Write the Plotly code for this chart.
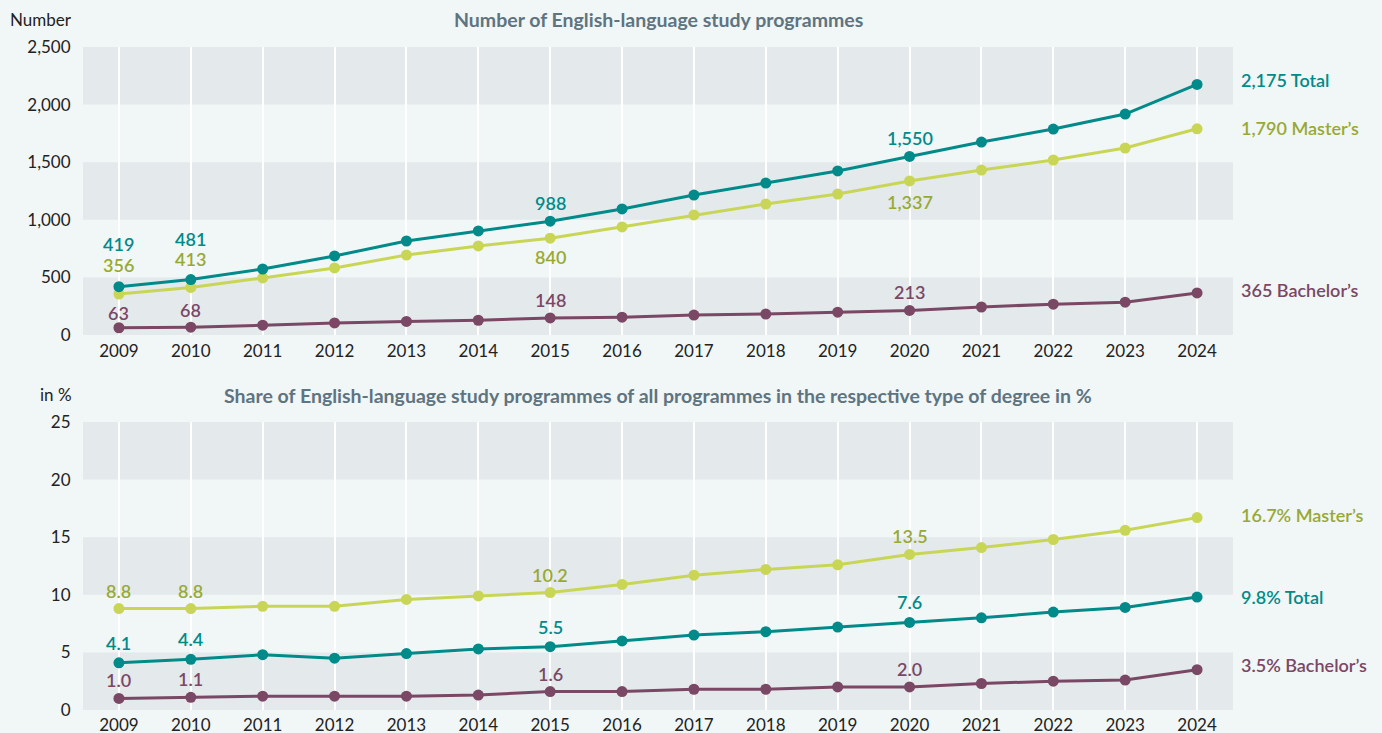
import plotly.graph_objects as go

years = list(range(2009, 2025))

num_total = [419, 481, 573, 686, 816, 903, 988, 1094, 1215, 1319, 1424, 1550, 1675, 1788, 1918, 2175]
num_master = [356, 413, 495, 582, 694, 773, 840, 938, 1042, 1137, 1224, 1337, 1432, 1519, 1623, 1790]
num_bachelor = [63, 68, 85, 105, 118, 128, 148, 155, 173, 182, 198, 213, 243, 268, 285, 365]

pct_total = [4.1, 4.4, 4.8, 4.5, 4.9, 5.3, 5.5, 6.0, 6.5, 6.8, 7.2, 7.6, 8.0, 8.5, 8.9, 9.8]
pct_master = [8.8, 8.8, 9.0, 9.0, 9.6, 9.9, 10.2, 10.9, 11.7, 12.2, 12.6, 13.5, 14.1, 14.8, 15.6, 16.7]
pct_bachelor = [1.0, 1.1, 1.2, 1.2, 1.2, 1.3, 1.6, 1.6, 1.8, 1.8, 2.0, 2.0, 2.3, 2.5, 2.6, 3.5]

label_years = [2009, 2010, 2015, 2020]

title_top = "Number of English-language study programmes"
title_bottom = "Share of English-language study programmes of all programmes in the respective type of degree in %"

C_TOTAL = "#008a8a"
C_MASTER_LINE = "#c9d655"
C_MASTER_TEXT = "#98a933"
C_BACH = "#7a4765"
BG = "#f1f6f6"
BAND = "#e4e9ec"
FONT = "Lato"

fig = go.Figure()

def add_series(x, y, color, xa, ya):
    fig.add_trace(go.Scatter(
        x=x, y=y, mode="lines+markers", xaxis=xa, yaxis=ya,
        line=dict(color=color, width=3),
        marker=dict(color=color, size=11),
        hoverinfo="skip", showlegend=False))

add_series(years, num_bachelor, C_BACH, "x", "y")
add_series(years, num_master, C_MASTER_LINE, "x", "y")
add_series(years, num_total, C_TOTAL, "x", "y")
add_series(years, pct_bachelor, C_BACH, "x2", "y2")
add_series(years, pct_total, C_TOTAL, "x2", "y2")
add_series(years, pct_master, C_MASTER_LINE, "x2", "y2")

axis_font = dict(family=FONT, size=17, color="#222222")

H = 733
fig.update_layout(
    width=1382, height=H,
    paper_bgcolor=BG, plot_bgcolor=BG,
    margin=dict(l=83, r=149, t=0, b=0),
    font=dict(family=FONT),
    xaxis=dict(domain=[0, 1], range=[2008.5, 2024.5], tickmode="array", tickvals=years,
               showgrid=True, gridcolor="white", gridwidth=1.5, zeroline=False,
               ticks="outside", ticklen=1, tickcolor="rgba(0,0,0,0)",
               tickfont=axis_font, anchor="y", automargin=False, showline=False),
    yaxis=dict(domain=[1 - 335 / H, 1 - 47 / H], range=[0, 2500], tickvals=[0, 500, 1000, 1500, 2000, 2500],
               tickformat=",", showgrid=False, zeroline=False,
               ticks="outside", ticklen=8, tickcolor="rgba(0,0,0,0)",
               tickfont=axis_font, anchor="x", automargin=False),
    xaxis2=dict(domain=[0, 1], range=[2008.5, 2024.5], tickmode="array", tickvals=years,
                showgrid=True, gridcolor="white", gridwidth=1.5, zeroline=False,
                ticks="outside", ticklen=0, tickcolor="rgba(0,0,0,0)",
                tickfont=axis_font, anchor="y2", automargin=False, showline=False),
    yaxis2=dict(domain=[1 - 710 / H, 1 - 422 / H], range=[0, 25], tickvals=[0, 5, 10, 15, 20, 25],
                showgrid=False, zeroline=False,
                ticks="outside", ticklen=8, tickcolor="rgba(0,0,0,0)",
                tickfont=axis_font, anchor="x2", automargin=False),
)

# Bands
for (lo, hi) in [(0, 500), (1000, 1500), (2000, 2500)]:
    fig.add_shape(type="rect", xref="x domain", yref="y", x0=0, x1=1, y0=lo, y1=hi,
                  fillcolor=BAND, line_width=0, layer="below")
for (lo, hi) in [(0, 5), (10, 15), (20, 25)]:
    fig.add_shape(type="rect", xref="x2 domain", yref="y2", x0=0, x1=1, y0=lo, y1=hi,
                  fillcolor=BAND, line_width=0, layer="below")

# Titles and unit labels
title_font = dict(family=FONT, size=19.5, color="#5e7480")
fig.add_annotation(text="<b>" + title_top + "</b>", xref="x domain", yref="paper", x=0.5, y=1 - 19 / H,
                   showarrow=False, font=title_font, yanchor="middle")
fig.add_annotation(text="<b>" + title_bottom + "</b>", xref="x2 domain", yref="paper", x=0.5, y=1 - 395 / H,
                   showarrow=False, font=title_font, yanchor="middle")
fig.add_annotation(text="Number", xref="paper", yref="paper", x=0, xshift=-9, y=1 - 19 / H,
                   showarrow=False, font=axis_font, xanchor="right", yanchor="middle")
fig.add_annotation(text="in %", xref="paper", yref="paper", x=0, xshift=-9, y=1 - 394 / H,
                   showarrow=False, font=axis_font, xanchor="right", yanchor="middle")

LABEL_SIZE = 18

def lab(x, y, text, color, xa, ya, shift):
    fig.add_annotation(text=text, x=x, y=y, xref=xa, yref=ya, showarrow=False,
                       yshift=shift, yanchor="middle",
                       font=dict(family=FONT, size=LABEL_SIZE, color=color, weight=600))

def fmt_num(v):
    return f"{v:,}"

top_shift = {
    "total": {2009: 43, 2010: 41, 2015: 18, 2020: 18},
    "master": {2009: 29, 2010: 28, 2015: -19, 2020: -21},
    "bach": {2009: 15, 2010: 17, 2015: 18, 2020: 18},
}
for yr in label_years:
    i = years.index(yr)
    lab(yr, num_total[i], fmt_num(num_total[i]), C_TOTAL, "x", "y", top_shift["total"][yr])
    lab(yr, num_master[i], fmt_num(num_master[i]), C_MASTER_TEXT, "x", "y", top_shift["master"][yr])
    lab(yr, num_bachelor[i], fmt_num(num_bachelor[i]), C_BACH, "x", "y", top_shift["bach"][yr])

for yr in label_years:
    i = years.index(yr)
    lab(yr, pct_total[i], f"{pct_total[i]:.1f}", C_TOTAL, "x2", "y2", 20)
    lab(yr, pct_master[i], f"{pct_master[i]:.1f}", C_MASTER_TEXT, "x2", "y2", 18)
    lab(yr, pct_bachelor[i], f"{pct_bachelor[i]:.1f}", C_BACH, "x2", "y2", 18)

def end_lab(y, text, color, ya, xa, shift):
    fig.add_annotation(text=text, x=1, xref=xa + " domain", y=y, yref=ya, showarrow=False,
                       xanchor="left", xshift=6, yshift=shift, yanchor="middle",
                       font=dict(family=FONT, size=LABEL_SIZE, color=color, weight=600))

end_lab(num_total[-1], f"{num_total[-1]:,} Total", C_TOTAL, "y", "x", 4)
end_lab(num_master[-1], f"{num_master[-1]:,} Master’s", C_MASTER_TEXT, "y", "x", 1)
end_lab(num_bachelor[-1], f"{num_bachelor[-1]:,} Bachelor’s", C_BACH, "y", "x", 3)
end_lab(pct_master[-1], f"{pct_master[-1]:.1f}% Master’s", C_MASTER_TEXT, "y2", "x2", 3)
end_lab(pct_total[-1], f"{pct_total[-1]:.1f}% Total", C_TOTAL, "y2", "x2", 0)
end_lab(pct_bachelor[-1], f"{pct_bachelor[-1]:.1f}% Bachelor’s", C_BACH, "y2", "x2", 5)

fig.write_html(
    "out.html",
    config={"displayModeBar": False},
    post_script="document.body.style.margin='0';document.body.style.background='" + BG + "';"
                "document.documentElement.style.overflow='hidden';",
)
